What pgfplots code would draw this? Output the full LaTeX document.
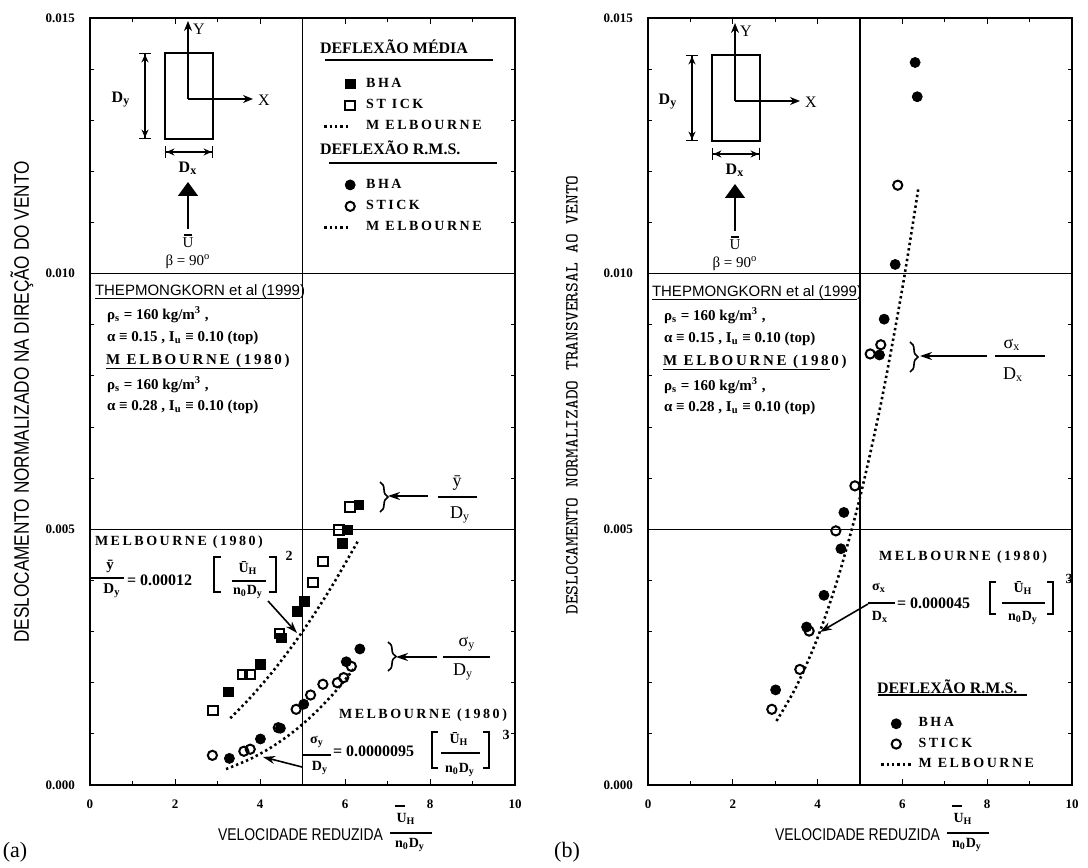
\documentclass[border=0pt]{standalone}
\usepackage{fontspec}
\setmainfont{Liberation Serif}
\newfontfamily\sansn[FakeStretch=0.82]{Liberation Sans}
\newfontfamily\sansf{Liberation Sans}
\newfontfamily\spaced[LetterSpace=18]{Liberation Serif}
\usepackage{pgfplots}
\pgfplotsset{compat=1.18}
\usetikzlibrary{arrows.meta,decorations.pathreplacing}
\newcommand{\fs}[1]{\fontsize{#1}{#1}\selectfont}

\pgfplotsset{
 /pgf/number format/assume math mode=true,
 panel/.style={
  scale only axis, height=383.5pt,
  xmin=0,xmax=10,ymin=0,ymax=0.015,
  xtick={0,2,...,10}, minor x tick num=1,
  ytick={0,0.005,0.010,0.015}, minor y tick num=4,
  ymajorgrids, grid style={black, line width=0.6pt},
  extra x ticks={5}, extra x tick labels={},
  extra x tick style={grid=major, major tick length=0pt},
  tick align=inside, major tick length=3pt, minor tick length=2pt,
  axis line style={line width=1.1pt},
  every tick/.style={black, line width=0.5pt},
  scaled y ticks=false,
  y tick label style={/pgf/number format/fixed,/pgf/number format/fixed zerofill,/pgf/number format/precision=3, xshift=-4pt},
  x tick label style={yshift=-4pt},
  tick label style={font=\bfseries\fs{6.5}},
  anchor=south west,
 },
 bhasq/.style={only marks, mark=square*, mark size=2.4pt, mark options={fill=black, draw=black}},
 sticksq/.style={only marks, mark=square, mark size=2.4pt, mark options={draw=black, line width=1pt}},
 bhaci/.style={only marks, mark=*, mark size=2.5pt, mark options={fill=black, draw=black}},
 stickci/.style={only marks, mark=o, mark size=2.3pt, mark options={draw=black, line width=1pt}},
 melb/.style={no marks, black, line width=1.3pt, dash pattern=on 1.2pt off 1.5pt},
 legL/.style={legend image code/.code={\path[draw=none,fill=none] (0pt,-5.35pt) rectangle (16pt,5.35pt); \draw[##1] plot coordinates {(13pt,0pt)};}},
 legLline/.style={legend image code/.code={\path[draw=none,fill=none] (0pt,-5.35pt) rectangle (16pt,5.35pt); \draw[##1] (0pt,0pt) -- (12pt,0pt);}},
 legR/.style={legend image code/.code={\path[draw=none,fill=none] (0pt,-4.6pt) rectangle (15pt,4.6pt); \draw[##1] plot coordinates {(7.5pt,0pt)};}},
 legRline/.style={legend image code/.code={\path[draw=none,fill=none] (0pt,-4.6pt) rectangle (15pt,4.6pt); \draw[##1] (0pt,0pt) -- (15pt,0pt);}},
}

\begin{document}
\begin{tikzpicture}
\begin{scope}[x=0.5pt,y=-0.5pt,yshift=434pt]
\useasboundingbox (0,0) rectangle (1088,868);
\end{scope}

% ---------------- Panel (a) ----------------
\begin{axis}[panel, at={(45pt,41.5pt)}, width=212.5pt,
  legend style={at={(0.548,0.928)}, anchor=north west, draw=none, fill=none,
    inner sep=0pt, outer sep=0pt, row sep=0pt, column sep=3pt,
    font=\spaced\bfseries\fs{7}, cells={anchor=west}}]
\addplot[bhasq, legL] coordinates {(3.26,0.00182) (4.01,0.00236) (4.51,0.00288) (4.87,0.00340) (5.05,0.00359) (5.94,0.00473) (6.05,0.00499) (6.33,0.00548)};
\addlegendentry{BHA}
\addplot[sticksq, legL] coordinates {(2.89,0.00146) (3.59,0.00216) (3.77,0.00216) (4.46,0.00296) (5.25,0.00396) (5.48,0.00437) (5.86,0.00499) (6.12,0.00544)};
\addlegendentry{ST ICK}
\addplot[melb, smooth, legLline] coordinates {(3.3,0.001307) (3.75,0.001688) (4.25,0.002168) (4.75,0.002708) (5.25,0.003308) (5.75,0.003968) (6.33,0.004808)};
\addlegendentry{M ELBOURNE}
\addlegendimage{legend image code/.code={\path[draw=none,fill=none] (0pt,-9.2pt) rectangle (16pt,9.2pt);}}
\addlegendentry{}
\addplot[bhaci, legL] coordinates {(3.28,0.00052) (4.01,0.00090) (4.48,0.00111) (5.03,0.00158) (6.03,0.00241) (6.35,0.00266)};
\addlegendentry{BHA}
\addplot[stickci, legL] coordinates {(2.88,0.00058) (3.62,0.00066) (3.77,0.00070) (4.43,0.00112) (4.85,0.00148) (5.19,0.00176) (5.48,0.00197) (5.82,0.00200) (5.97,0.00210) (6.15,0.00232)};
\addlegendentry{STICK}
\addplot[melb, smooth, legLline] coordinates {(3.2,0.000311) (3.75,0.000501) (4.25,0.000729) (4.75,0.001018) (5.25,0.001375) (5.75,0.001806) (6.2,0.002264)};
\addlegendentry{M ELBOURNE}
\end{axis}

% ---------------- Panel (b) ----------------
\begin{axis}[panel, at={(324pt,41.5pt)}, width=212pt,
  legend style={at={(0.547,0.093)}, anchor=north west, draw=none, fill=none,
    inner sep=0pt, outer sep=0pt, row sep=0pt, column sep=1pt,
    font=\spaced\bfseries\fs{7}, cells={anchor=west}}]
\addplot[bhaci, legR] coordinates {(3.01,0.00186) (3.74,0.00309) (4.15,0.00371) (4.55,0.00462) (4.62,0.00533) (5.46,0.00841) (5.57,0.00911) (5.83,0.01018) (6.30,0.01413) (6.35,0.01346)};
\addlegendentry{BHA}
\addplot[stickci, legR] coordinates {(2.92,0.00148) (3.58,0.00226) (3.80,0.00301) (4.43,0.00497) (4.88,0.00585) (5.24,0.00843) (5.49,0.00861) (5.89,0.01173)};
\addlegendentry{STICK}
\addplot[melb, smooth, legRline] coordinates {(3.03,0.001252) (3.5,0.001929) (4.0,0.00288) (4.5,0.004101) (5.0,0.005625) (5.5,0.007487) (6.0,0.00972) (6.38,0.011687)};
\addlegendentry{M ELBOURNE}
\end{axis}

% ---------------- Annotations (pixel frame) ----------------
\begin{scope}[x=0.5pt,y=-0.5pt,yshift=434pt, every node/.style={inner sep=0pt, outer sep=0pt}]
 % y labels
 \node[rotate=90,font=\sansn\fs{10.5}] at (22,402) {DESLOCAMENTO NORMALIZADO NA DIREÇÃO DO VENTO};
 \node[rotate=90,font=\ttfamily\fs{9.3}] at (572,395) {DESLOCAMENTO NORMALIZADO TRANSVERSAL AO VENTO};
 % x labels
 \node[anchor=east,font=\sansn\fs{8.5}] at (383,835) {VELOCIDADE REDUZIDA};
 \draw[line width=0.7pt] (395,806) -- (405,806);
 \node[font=\bfseries\fs{7}] at (406,819) {U\textsubscript{H}};
 \draw[line width=0.9pt] (390,833) -- (432,833);
 \node[font=\bfseries\fs{7}] at (410,845) {n\textsubscript{0}D\textsubscript{y}};
 \node[anchor=east,font=\sansn\fs{8.5}] at (940,835) {VELOCIDADE REDUZIDA};
 \draw[line width=0.7pt] (952,806) -- (962,806);
 \node[font=\bfseries\fs{7}] at (963,819) {U\textsubscript{H}};
 \draw[line width=0.9pt] (947,833) -- (989,833);
 \node[font=\bfseries\fs{7}] at (967,845) {n\textsubscript{0}D\textsubscript{y}};
 \node[font=\fs{11}] at (15,852) {(a)};
 \node[font=\fs{11}] at (567,852) {(b)};

 % diagrams
 \foreach \dx/\dy in {0/0, 547/2} {
 \begin{scope}[shift={(\dx,\dy)}]
  \draw[line width=0.7pt] (165,53) rectangle (213,139);
  \draw[line width=0.7pt,-{Stealth[length=5pt,width=4pt]}] (188,99) -- (188,21);
  \node[anchor=west,font=\fs{8}] at (193,29) {Y};
  \draw[line width=0.7pt,-{Stealth[length=5pt,width=4pt]}] (188,99) -- (253,99);
  \node[font=\fs{8}] at (264,100) {X};
  \draw[line width=0.7pt,{Bar[width=6pt]Stealth[length=4pt,width=3.5pt]}-{Stealth[length=4pt,width=3.5pt]Bar[width=6pt]}] (145,53) -- (145,139);
  \node[font=\bfseries\fs{8}] at (121,100) {D\textsubscript{y}};
  \draw[line width=0.7pt,{Bar[width=6pt]Stealth[length=4pt,width=3.5pt]}-{Stealth[length=4pt,width=3.5pt]Bar[width=6pt]}] (165,152) -- (213,152);
  \node[font=\bfseries\fs{8}] at (188,168) {D\textsubscript{x}};
  \draw[line width=0.8pt,-{Triangle[length=7pt,width=10pt]}] (188,229) -- (188,182);
  \draw[line width=0.6pt] (184,235) -- (192,235);
  \node[font=\fs{7.5}] at (188,243) {U};
  \node[font=\fs{7.5}] at (188,262) {β = 90\textsuperscript{o}};
 \end{scope}}

 % parameter text blocks
 \foreach \dx/\dy in {0/0, 557/1} {
 \begin{scope}[shift={(\dx,\dy)}]
  \node[anchor=west,font=\sansf\fs{7.5}] at (95,292) {THEPMONGKORN et al (1999)};
  \draw[line width=0.5pt] (95,299) -- (300,299);
  \node[anchor=west,font=\bfseries\fs{7.5}] at (107,315) {ρ\textsubscript{s} = 160 kg/m\textsuperscript{3} ,};
  \node[anchor=west,font=\bfseries\fs{7.5}] at (107,338) {α ≡ 0.15 , I\textsubscript{u} ≡ 0.10 (top)};
  \node[anchor=west,font=\spaced\bfseries\fs{7.5}] at (106,361) {M ELBOURNE (1980)};
  \draw[line width=0.5pt] (106,369) -- (273,369);
  \node[anchor=west,font=\bfseries\fs{7.5}] at (107,385) {ρ\textsubscript{s} = 160 kg/m\textsuperscript{3} ,};
  \node[anchor=west,font=\bfseries\fs{7.5}] at (107,407) {α ≡ 0.28 , I\textsubscript{u} ≡ 0.10 (top)};
 \end{scope}}

 % legend headings (a)
 \node[anchor=west,font=\bfseries\fs{8}] at (320,47) {DEFLEXÃO MÉDIA};
 \draw[line width=0.6pt] (325,60) -- (493,60);
 \node[anchor=west,font=\bfseries\fs{8}] at (320,148) {DEFLEXÃO R.M.S.};
 \draw[line width=0.6pt] (329,163) -- (497,163);
 % legend heading (b)
 \node[anchor=west,font=\bfseries\fs{8}] at (877,687) {DEFLEXÃO R.M.S.};
 \draw[line width=0.6pt] (878,695) -- (1027,695);

 % (a) mean equation
 \node[anchor=west,font=\spaced\bfseries\fs{7}] at (95,542) {MELBOURNE (1980)};
 \node[font=\bfseries\fs{7.5}] at (110,566) {ȳ};
 \draw[line width=0.8pt] (90,578) -- (124,578);
 \node[font=\bfseries\fs{7.5}] at (112,591) {D\textsubscript{y}};
 \node[anchor=west,font=\bfseries\fs{8}] at (127,580) {= 0.00012};
 \draw[line width=1.2pt] (221,557) -- (214,557) -- (214,592) -- (221,592);
 \node[font=\bfseries\fs{7}] at (248,568) {Ū\textsubscript{H}};
 \draw[line width=0.8pt] (232,581) -- (266,581);
 \node[font=\bfseries\fs{7}] at (248,592) {n\textsubscript{0}D\textsubscript{y}};
 \draw[line width=1.2pt] (269,557) -- (276,557) -- (276,592) -- (269,592);
 \node[font=\bfseries\fs{7}] at (289,556) {2};
 \draw[line width=0.8pt,-{Stealth[length=6pt,width=4pt]}] (268,601) -- (297,633);

 % (a) braces
 \draw[line width=0.8pt,decorate,decoration={brace,amplitude=4pt}] (380,482) -- (380,512);
 \draw[line width=0.8pt,-{Stealth[length=6pt,width=4pt]}] (428,496) -- (388,496);
 \node[font=\fs{9}] at (457,483) {ȳ};
 \draw[line width=0.8pt] (438,497) -- (477,497);
 \node[font=\fs{9}] at (460,515) {D\textsubscript{y}};

 \draw[line width=0.8pt,decorate,decoration={brace,amplitude=4pt}] (388,642) -- (388,671);
 \draw[line width=0.8pt,-{Stealth[length=6pt,width=4pt]}] (437,657) -- (396,657);
 \node[font=\fs{9}] at (467,644) {σ\textsubscript{y}};
 \draw[line width=0.8pt] (443,657) -- (490,657);
 \node[font=\fs{9}] at (463,672) {D\textsubscript{y}};

 % (a) rms equation
 \node[font=\spaced\bfseries\fs{7}] at (423,715) {MELBOURNE (1980)};
 \node[font=\bfseries\fs{7}] at (317,742) {σ\textsubscript{y}};
 \draw[line width=0.8pt] (303,755) -- (331,755);
 \node[font=\bfseries\fs{7}] at (320,768) {D\textsubscript{y}};
 \node[anchor=west,font=\bfseries\fs{8}] at (333,751) {= 0.0000095};
 \draw[line width=1.2pt] (438,732) -- (432,732) -- (432,768) -- (438,768);
 \node[font=\bfseries\fs{7}] at (459,739) {Ū\textsubscript{H}};
 \draw[line width=0.8pt] (441,753) -- (480,753);
 \node[font=\bfseries\fs{7}] at (460,770) {n\textsubscript{0}D\textsubscript{y}};
 \draw[line width=1.2pt] (483,732) -- (489,732) -- (489,768) -- (483,768);
 \node[font=\bfseries\fs{7}] at (506,735) {3};
 \draw[line width=0.8pt,-{Stealth[length=6pt,width=4pt]}] (302,767) -- (263,757);

 % (b) brace
 \draw[line width=0.8pt,decorate,decoration={brace,amplitude=4pt}] (910,342) -- (910,372);
 \draw[line width=0.8pt,-{Stealth[length=6pt,width=4pt]}] (987,356) -- (920,356);
 \node[font=\fs{9}] at (1012,345) {σ\textsubscript{x}};
 \draw[line width=0.8pt] (995,356) -- (1045,356);
 \node[font=\fs{9}] at (1013,375) {D\textsubscript{x}};

 % (b) rms equation
 \node[font=\spaced\bfseries\fs{7}] at (963,557) {MELBOURNE (1980)};
 \node[font=\bfseries\fs{7}] at (879,588) {σ\textsubscript{x}};
 \draw[line width=0.8pt] (868,603) -- (895,603);
 \node[font=\bfseries\fs{7}] at (880,617) {D\textsubscript{x}};
 \node[anchor=west,font=\bfseries\fs{8}] at (897,603) {= 0.000045};
 \draw[line width=1.2pt] (996,582) -- (990,582) -- (990,614) -- (996,614);
 \node[font=\bfseries\fs{7}] at (1023,588) {Ū\textsubscript{H}};
 \draw[line width=0.8pt] (1002,603) -- (1045,603);
 \node[font=\bfseries\fs{7}] at (1023,618) {n\textsubscript{0}D\textsubscript{y}};
 \draw[line width=1.2pt] (1047,582) -- (1053,582) -- (1053,614) -- (1047,614);
 \node[font=\bfseries\fs{7}] at (1069,579) {3};
 \draw[line width=0.8pt,-{Stealth[length=6pt,width=4pt]}] (868,604) -- (820,632);
\end{scope}
\end{tikzpicture}
\end{document}
